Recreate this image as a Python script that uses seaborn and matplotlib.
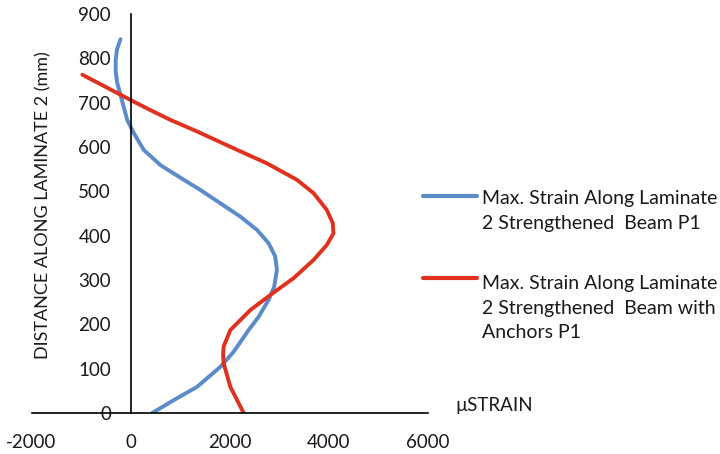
import pandas as pd
import seaborn as sns
import matplotlib.pyplot as plt

sns.set_style('white')
plt.rcParams['font.family'] = ['Lato', 'DejaVu Sans']
plt.rcParams['axes.unicode_minus'] = False

# values (strain in microstrain, distance in mm)
blue_label = 'Max. Strain Along Laminate\n2 Strengthened  Beam P1'
blue_strain = [437, 873, 1344, 1814, 2083, 2385, 2587, 2789, 2903, 2957, 2923, 2789, 2554,
               2218, 1814, 1411, 1075, 605, 269, 67, -67, -190, -270, -300, -300, -275, -202]
blue_dist = [0, 29, 59, 104, 138, 187, 217, 255, 285, 323, 353, 383, 413,
             443, 473, 503, 526, 559, 593, 631, 661, 712, 745, 770, 795, 820, 843]

red_label = 'Max. Strain Along Laminate\n2 Strengthened  Beam with\nAnchors P1'
red_strain = [2285, 2016, 1881, 1870, 1881, 2016, 2419, 2822, 3293, 3696, 3965, 4099,
              4086, 3965, 3696, 3360, 2756, 2083, 1344, 806, 403, 67, -974]
red_dist = [0, 59, 112, 132, 150, 187, 232, 266, 304, 345, 379, 405,
            428, 458, 496, 526, 563, 597, 635, 661, 683, 702, 763]

x_ticks = [-2000, 0, 2000, 4000, 6000]
y_ticks = [0, 100, 200, 300, 400, 500, 600, 700, 800, 900]

colors = {blue_label: '#5b8bc9', red_label: '#e0311f'}

df = pd.concat([
    pd.DataFrame({'strain': blue_strain, 'dist': blue_dist, 'series': blue_label}),
    pd.DataFrame({'strain': red_strain, 'dist': red_dist, 'series': red_label}),
])

fig = plt.figure(figsize=(7.2, 4.54), dpi=100)
ax = fig.add_axes([0.0438, 0.0903, 0.55, 0.879])

sns.lineplot(data=df, x='strain', y='dist', hue='series', palette=colors,
             sort=False, estimator=None, linewidth=2.8, ax=ax)

ax.set_xlim(-2000, 6000)
ax.set_ylim(0, 900)
ax.set_xticks(x_ticks)
ax.set_yticks(y_ticks)

for s in ['top', 'right']:
    ax.spines[s].set_visible(False)
ax.spines['left'].set_position(('data', 0))
ax.spines['bottom'].set_position(('data', 0))
for s in ['left', 'bottom']:
    ax.spines[s].set_color('black')
    ax.spines[s].set_linewidth(1.2)

ax.tick_params(axis='both', direction='in', length=5, width=1.2, color='black',
               labelsize=13.5, labelcolor='#1a1a1a')
ax.tick_params(axis='y', pad=14)
ax.tick_params(axis='x', pad=15)

ax.set_ylabel('DISTANCE ALONG LAMINATE 2 (mm)', fontsize=13, color='#1a1a1a')
ax.yaxis.set_label_coords(0.05, 0.52)
ax.set_xlabel('µSTRAIN', fontsize=13.5, color='#1a1a1a', ha='left', va='center')
ax.xaxis.set_label_coords(1.07, 0.02)

fs = 14
lsp = 1.55
handles, labels = ax.get_legend_handles_labels()
leg = ax.legend(handles, labels, loc='upper left', bbox_to_anchor=(0.563, 0.619),
                bbox_transform=fig.transFigure, frameon=False, fontsize=fs,
                handlelength=2.8, handletextpad=0.26, labelspacing=2.2)
for t in leg.get_texts():
    t.set_linespacing(lsp)
    t.set_color('#1a1a1a')
# move each handle up to the first line of its label
for line, lab in zip(leg.get_lines(), labels):
    n = lab.count('\n')
    y = line.get_ydata()
    line.set_ydata([v + n * 0.5 * lsp * fs for v in y])
    line.set_linewidth(3)

fig.savefig('out.png', dpi=100)
